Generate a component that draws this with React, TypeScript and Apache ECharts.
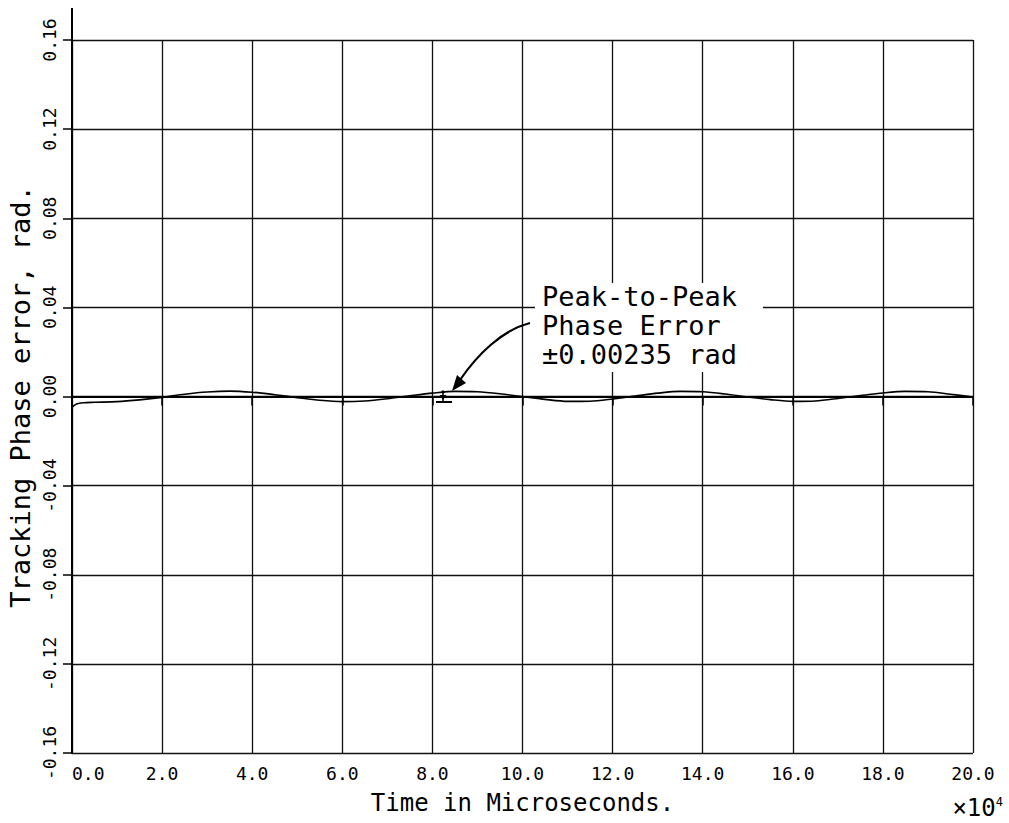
import React, { useEffect, useRef } from "react";
import * as echarts from "echarts";

// Time in units of 10^4 microseconds
const timeX = [0, 0.1, 0.25, 0.5, 1.0, 1.5, 2.0, 2.5, 3.0, 3.5, 4.0, 4.5, 5.0, 5.5, 6.0, 6.5, 7.0, 7.5, 8.0, 8.5, 9.0, 9.5, 10.0, 10.5, 11.0, 11.5, 12.0, 12.5, 13.0, 13.5, 14.0, 14.5, 15.0, 15.5, 16.0, 16.5, 17.0, 17.5, 18.0, 18.5, 19.0, 19.5, 20.0];
// Tracking phase error, rad
const phaseErr = [-0.0048, -0.0034, -0.0028, -0.0026, -0.0023, -0.0015, -0.0004, 0.001, 0.002, 0.0024, 0.0019, 0.0008, -0.0005, -0.0017, -0.0023, -0.002, -0.001, 0.0003, 0.0015, 0.0023, 0.0021, 0.0012, 0.0, -0.0013, -0.0022, -0.0021, -0.0011, 0.0002, 0.0015, 0.0023, 0.0021, 0.0011, -0.0002, -0.0014, -0.0022, -0.002, -0.0009, 0.0004, 0.0016, 0.0023, 0.0021, 0.001, -0.0002];

const annotationLines = ["Peak-to-Peak", "Phase Error", "±0.00235 rad"];
const xTitle = "Time in Microseconds.";
const yTitle = "Tracking Phase error, rad.";

const MONO = "DejaVu Sans Mono";

export default function App() {
  const ref = useRef<HTMLDivElement>(null);
  useEffect(() => {
    if (!ref.current) return;
    const chart = echarts.init(ref.current, null, { renderer: "svg" });
    const data = timeX.map((x, i) => [x, phaseErr[i]]);
    const ink = "#000";
    const option: any = {
      animation: false,
      backgroundColor: "#fff",
      grid: { left: 72, right: 36, top: 40, bottom: 70, outerBoundsMode: "none", containLabel: false },
      xAxis: {
        type: "value",
        min: 0,
        max: 20,
        interval: 2,
        name: xTitle,
        nameLocation: "middle",
        nameGap: 38,
        nameMoveOverlap: false,
        nameTextStyle: { fontFamily: MONO, fontSize: 24, color: ink },
        axisLine: { show: true, lineStyle: { color: ink, width: 2 } },
        axisTick: { show: true, length: 9, lineStyle: { color: ink, width: 1.5 } },
        axisLabel: {
          fontFamily: MONO,
          fontSize: 18,
          color: ink,
          margin: 11,
          alignMinLabel: "left",
          formatter: (v: number) => v.toFixed(1),
        },
        splitLine: { show: true, lineStyle: { color: "#111", width: 1.3 } },
      },
      yAxis: {
        type: "value",
        min: -0.16,
        max: 0.16,
        interval: 0.04,
        name: yTitle,
        nameLocation: "middle",
        nameGap: 38,
        nameMoveOverlap: false,
        nameRotate: 90,
        nameTextStyle: { fontFamily: MONO, fontSize: 27, color: ink },
        axisLine: { show: true, onZero: false, lineStyle: { color: ink, width: 2 } },
        axisTick: { show: true, length: 9, lineStyle: { color: ink, width: 1.5 } },
        axisLabel: {
          fontFamily: MONO,
          fontSize: 18,
          color: ink,
          margin: 14,
          rotate: 90,
          formatter: (v: number) => (Math.abs(v) < 1e-9 ? "0.00" : v.toFixed(2)),
        },
        splitLine: { show: true, lineStyle: { color: "#111", width: 1.3 } },
      },
      series: [
        {
          type: "line",
          data,
          smooth: 0.3,
          showSymbol: false,
          lineStyle: { color: ink, width: 1.6 },
          z: 5,
        },
      ],
      graphic: [
        // y-axis line extension above the top gridline
        { type: "line", shape: { x1: 72, y1: 8, x2: 72, y2: 40 }, style: { stroke: ink, lineWidth: 2 }, z: 20 },
        // white box behind the annotation
        { type: "rect", shape: { x: 535, y: 283, width: 228, height: 89 }, style: { fill: "#fff" }, z: 20 },
        ...annotationLines.map((t, i) => ({
          type: "text",
          x: 542,
          y: 296 + i * 29,
          z: 21,
          style: { text: t, font: `27px "${MONO}"`, fill: ink, textVerticalAlign: "middle" },
        })),
        // curved arrow
        {
          type: "bezierCurve",
          shape: { x1: 530, y1: 323, cpx1: 502, cpy1: 330, cpx2: 477, cpy2: 355, x2: 460, y2: 380 },
          style: { stroke: ink, lineWidth: 2.2, fill: null },
          z: 21,
        },
        {
          type: "polygon",
          shape: { points: [[452, 391], [466, 383], [457, 375]] },
          style: { fill: ink },
          z: 21,
        },
        // peak-to-peak marker
        { type: "line", shape: { x1: 436, y1: 402, x2: 452, y2: 402 }, style: { stroke: ink, lineWidth: 2 }, z: 21 },
        { type: "line", shape: { x1: 443, y1: 391, x2: 443, y2: 401 }, style: { stroke: ink, lineWidth: 1.5 }, z: 21 },
        { type: "polygon", shape: { points: [[439.5, 395], [446.5, 395], [443, 400]] }, style: { fill: ink }, z: 21 },
        { type: "circle", shape: { cx: 443, cy: 392, r: 1.6 }, style: { fill: ink }, z: 21 },
        // x10^4 multiplier
        {
          type: "text",
          x: 1003,
          y: 808,
          z: 21,
          style: {
            text: "×10{s|4}",
            font: `24px "${MONO}"`,
            fill: ink,
            textAlign: "right",
            textVerticalAlign: "middle",
            rich: { s: { fontFamily: MONO, fontSize: 12, verticalAlign: "top", padding: [0, 0, 12, 0] } },
          },
        },
      ],
    };
    chart.setOption(option);
    return () => chart.dispose();
  }, []);
  return (
    <div
      ref={ref}
      style={{ position: "fixed", left: 0, top: 0, width: 1009, height: 823, background: "#fff" }}
    />
  );
}
